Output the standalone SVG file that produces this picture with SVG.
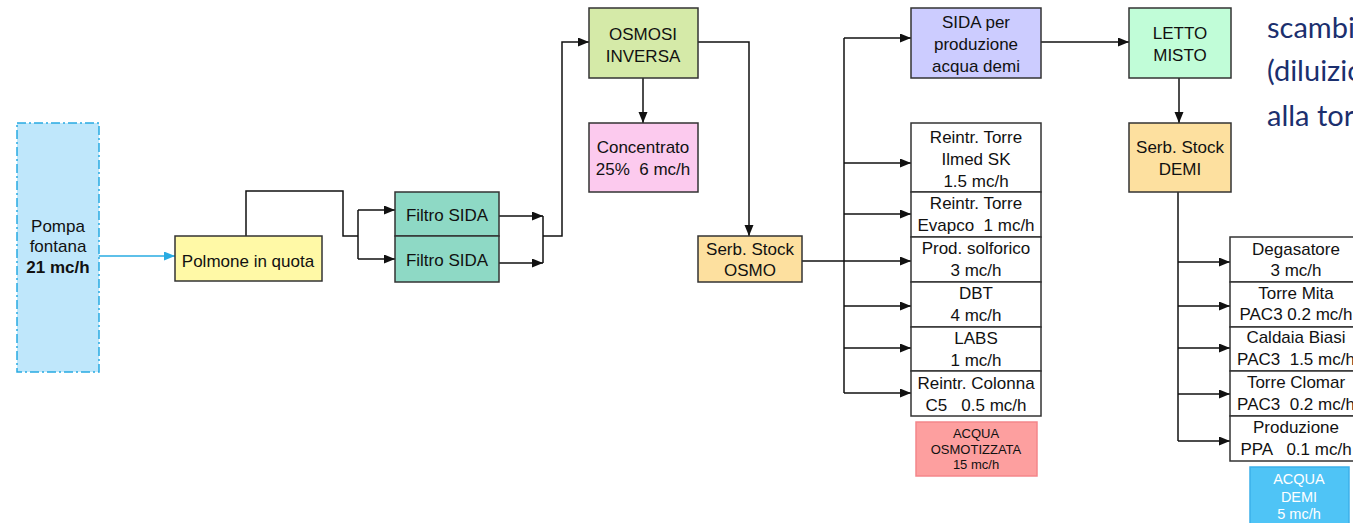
<svg xmlns="http://www.w3.org/2000/svg" width="1353" height="523" viewBox="0 0 1353 523">
<style>
text{font-family:"Liberation Sans",Arial,sans-serif;font-size:17px;fill:#111;text-anchor:middle;white-space:pre}
.b{stroke:#333;stroke-width:1.5}
.w{fill:#fff}
.c{fill:none;stroke:#111;stroke-width:1.5}
.s{font-size:13px}
.d{font-size:14.5px;fill:#fff}
.t{font-family:Lato,"Open Sans",sans-serif;font-size:29px;fill:#1b2f6e;text-anchor:start}
</style>
<defs>
<marker id="a" markerUnits="userSpaceOnUse" markerWidth="12" markerHeight="10" refX="11" refY="4.5" orient="auto"><path d="M0,0 L11,4.5 L0,9 z" fill="#111"/></marker>
<marker id="ab" markerUnits="userSpaceOnUse" markerWidth="12" markerHeight="10" refX="11" refY="4.5" orient="auto"><path d="M0,0 L11,4.5 L0,9 z" fill="#29abe2"/></marker>
</defs>

<g id="connectors">
<path d="M99,256 H175" fill="none" stroke="#29abe2" stroke-width="1.5" marker-end="url(#ab)"/>
<path class="c" d="M246,236 V191 H343 V236 H358"/>
<path class="c" d="M358,210 V259"/>
<path class="c" d="M358,210 H395" marker-end="url(#a)"/>
<path class="c" d="M358,259 H395" marker-end="url(#a)"/>
<path class="c" d="M499,216 H543" marker-end="url(#a)"/>
<path class="c" d="M499,263 H543" marker-end="url(#a)"/>
<path class="c" d="M543,216 V263"/>
<path class="c" d="M543,236 H562 V42 H589" marker-end="url(#a)"/>
<path class="c" d="M643,78 V123" marker-end="url(#a)"/>
<path class="c" d="M698,42 H749 V236" marker-end="url(#a)"/>
<path class="c" d="M802,261 H911" marker-end="url(#a)"/>
<path class="c" d="M844,38 V393"/>
<path class="c" d="M844,38 H911" marker-end="url(#a)"/>
<path class="c" d="M844,163 H911" marker-end="url(#a)"/>
<path class="c" d="M844,214 H911" marker-end="url(#a)"/>
<path class="c" d="M844,306 H911" marker-end="url(#a)"/>
<path class="c" d="M844,348 H911" marker-end="url(#a)"/>
<path class="c" d="M844,393 H911" marker-end="url(#a)"/>
<path class="c" d="M1041,42 H1129" marker-end="url(#a)"/>
<path class="c" d="M1179,78 V123" marker-end="url(#a)"/>
<path class="c" d="M1178,192 V441"/>
<path class="c" d="M1178,262 H1230" marker-end="url(#a)"/>
<path class="c" d="M1178,306 H1230" marker-end="url(#a)"/>
<path class="c" d="M1178,348 H1230" marker-end="url(#a)"/>
<path class="c" d="M1178,394 H1230" marker-end="url(#a)"/>
<path class="c" d="M1178,441 H1230" marker-end="url(#a)"/>
</g>

<g id="pompa">
<rect x="17" y="123" width="82" height="249" fill="#bfe7fb" stroke="#29abe2" stroke-width="1.5" stroke-dasharray="9,3,2,3"/>
<text x="58" y="232">Pompa</text>
<text x="58" y="252">fontana</text>
<text x="58" y="273" font-weight="bold">21 mc/h</text>
</g>

<g id="polmone">
<rect class="b" x="175" y="236" width="147" height="45" fill="#fff9a6"/>
<text x="248" y="267">Polmone in quota</text>
</g>

<g id="filtro1">
<rect class="b" x="395" y="192" width="104" height="44" fill="#8ed9c5"/>
<text x="447" y="221">Filtro SIDA</text>
</g>
<g id="filtro2">
<rect class="b" x="395" y="236" width="104" height="46" fill="#8ed9c5"/>
<text x="447" y="266">Filtro SIDA</text>
</g>

<g id="osmosi">
<rect class="b" x="589" y="8" width="109" height="70" fill="#d5eaa8"/>
<text x="643" y="40">OSMOSI</text>
<text x="643" y="62">INVERSA</text>
</g>

<g id="concentrato">
<rect class="b" x="589" y="123" width="109" height="69" fill="#fccaee"/>
<text x="643" y="153">Concentrato</text>
<text x="643" y="175">25%  6 mc/h</text>
</g>

<g id="serb-osmo">
<rect class="b" x="698" y="236" width="104" height="46" fill="#fde09f"/>
<text x="750" y="255">Serb. Stock</text>
<text x="750" y="276">OSMO</text>
</g>

<g id="sida-demi">
<rect class="b" x="911" y="8" width="130" height="70" fill="#ccccff"/>
<text x="976" y="28">SIDA per</text>
<text x="976" y="50">produzione</text>
<text x="976" y="72">acqua demi</text>
</g>

<g id="ilmed">
<rect class="b w" x="911" y="123" width="130" height="69"/>
<text x="976" y="143">Reintr. Torre</text>
<text x="976" y="165">Ilmed SK</text>
<text x="976" y="187">1.5 mc/h</text>
</g>
<g id="evapco">
<rect class="b w" x="911" y="192" width="130" height="45"/>
<text x="976" y="209">Reintr. Torre</text>
<text x="976" y="231">Evapco  1 mc/h</text>
</g>
<g id="solforico">
<rect class="b w" x="911" y="237" width="130" height="45"/>
<text x="976" y="254">Prod. solforico</text>
<text x="976" y="276">3 mc/h</text>
</g>
<g id="dbt">
<rect class="b w" x="911" y="282" width="130" height="45"/>
<text x="976" y="299">DBT</text>
<text x="976" y="321">4 mc/h</text>
</g>
<g id="labs">
<rect class="b w" x="911" y="327" width="130" height="44"/>
<text x="976" y="344">LABS</text>
<text x="976" y="366">1 mc/h</text>
</g>
<g id="colonna">
<rect class="b w" x="911" y="371" width="130" height="45"/>
<text x="976" y="389">Reintr. Colonna</text>
<text x="976" y="411">C5   0.5 mc/h</text>
</g>

<g id="acqua-osmo">
<rect x="916" y="422" width="121" height="54" fill="#fd9f9f" stroke="#f4868a" stroke-width="1.5"/>
<text class="s" x="976" y="438">ACQUA</text>
<text class="s" x="976" y="454">OSMOTIZZATA</text>
<text class="s" x="976" y="469">15 mc/h</text>
</g>

<g id="letto">
<rect class="b" x="1129" y="8" width="102" height="70" fill="#c1fdd8"/>
<text x="1180" y="39" font-size="16">LETTO</text>
<text x="1180" y="61" font-size="16">MISTO</text>
</g>

<g id="serb-demi">
<rect class="b" x="1129" y="123" width="102" height="69" fill="#fde09f"/>
<text x="1180" y="153">Serb. Stock</text>
<text x="1180" y="175">DEMI</text>
</g>

<g id="degasatore">
<rect class="b w" x="1230" y="237" width="132" height="45"/>
<text x="1296" y="255">Degasatore</text>
<text x="1296" y="276">3 mc/h</text>
</g>
<g id="mita">
<rect class="b w" x="1230" y="282" width="132" height="45"/>
<text x="1296" y="299">Torre Mita</text>
<text x="1296" y="320">PAC3 0.2 mc/h</text>
</g>
<g id="biasi">
<rect class="b w" x="1230" y="327" width="132" height="44"/>
<text x="1296" y="343">Caldaia Biasi</text>
<text x="1296" y="365">PAC3  1.5 mc/h</text>
</g>
<g id="clomar">
<rect class="b w" x="1230" y="371" width="132" height="45"/>
<text x="1296" y="388">Torre Clomar</text>
<text x="1296" y="410">PAC3  0.2 mc/h</text>
</g>
<g id="ppa">
<rect class="b w" x="1230" y="416" width="132" height="45"/>
<text x="1296" y="433">Produzione</text>
<text x="1296" y="455">PPA   0.1 mc/h</text>
</g>

<g id="acqua-demi">
<rect x="1250" y="467" width="99" height="62" fill="#4fc4f6" stroke="#3bb0ea" stroke-width="1.5"/>
<text class="d" x="1299" y="484">ACQUA</text>
<text class="d" x="1299" y="502">DEMI</text>
<text class="d" x="1299" y="519">5 mc/h</text>
</g>

<g id="note">
<text class="t" x="1267" y="38">scambi</text>
<text class="t" x="1267" y="81">(diluizio</text>
<text class="t" x="1267" y="126">alla torr</text>
</g>
</svg>
